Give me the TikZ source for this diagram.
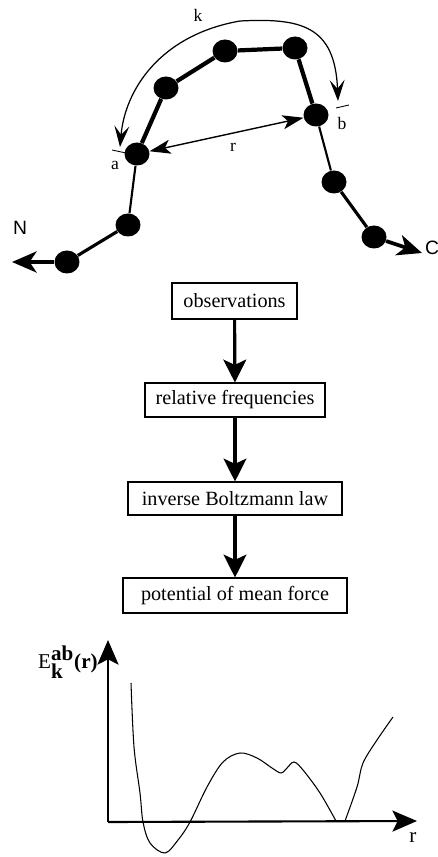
\documentclass[tikz,border=0pt]{standalone}
\usepackage{fontspec}
\setmainfont{Liberation Serif}
\newfontfamily\sansf{Liberation Sans}
\usetikzlibrary{arrows.meta,shapes.geometric}
\begin{document}
\begin{tikzpicture}[x=0.02cm,y=-0.02cm,
  bead/.style={ellipse,fill=black,inner sep=0pt,minimum width=0.5cm,minimum height=0.46cm},
  flowbox/.style={draw,line width=0.6pt,inner sep=0pt,font=\fontsize{11.5}{13}\selectfont},
  flowarrow/.style={line width=1.8pt,-{Stealth[length=13pt,width=13pt,inset=3pt]}},
  axisline/.style={line width=1.2pt,-{Stealth[length=14pt,width=12pt,inset=3pt]}},
  lbl/.style={inner sep=0pt,font=\fontsize{10}{12}\selectfont},
  endlbl/.style={inner sep=0pt,font=\sansf\fontsize{11}{13}\selectfont},
  segthick/.style={line width=2.4pt},
  segmid/.style={line width=1.8pt},
  segthin/.style={line width=1.2pt},
  endarrow/.style={line width=2.1pt,-{Stealth[length=14pt,width=12pt,inset=4pt]}},
  rarrow/.style={line width=0.8pt,{Stealth[length=12pt,width=8pt,inset=3pt]}-{Stealth[length=12pt,width=8pt,inset=3pt]}},
  karrow/.style={line width=0.7pt,{Stealth[length=12pt,width=8.5pt,inset=5pt]}-{Stealth[length=12pt,width=8.5pt,inset=5pt]}},
  tick/.style={line width=0.5pt},
  curve/.style={line width=0.6pt}
]
\useasboundingbox (0,0) rectangle (437,857);

% ---- chain ----
\coordinate (n0) at (12,262);
\coordinate (c0) at (422,253);
\node[bead] (b1) at (67,262) {};
\node[bead] (b2) at (128,225) {};
\node[bead] (ba) at (137,154) {};
\node[bead] (b4) at (166,88) {};
\node[bead] (b5) at (225,51) {};
\node[bead] (b6) at (295,48) {};
\node[bead] (bb) at (316,115) {};
\node[bead] (b8) at (334,182) {};
\node[bead] (b9) at (374,237) {};

\draw[endarrow] (b1) -- (n0);
\draw[segmid] (b1) -- (b2);
\draw[segthin] (b2) -- (ba);
\draw[segthick] (ba) -- (b4);
\draw[segthick] (b4) -- (b5);
\draw[segthick] (b5) -- (b6);
\draw[segthick] (b6) -- (bb);
\draw[segthin] (bb) -- (b8);
\draw[segmid] (b8) -- (b9);
\draw[endarrow] (b9) -- (c0);

\node[endlbl] (nl) at (20,228) {N};
\node[endlbl] (cl) at (432,248) {C};
\node[lbl] (al) at (115,165) {a};
\node[lbl] (bl) at (342,123) {b};

% r arrow
\draw[rarrow] (ba) -- (bb);
\node[lbl] (rl) at (233,147) {r};

% k arrow
\coordinate (ka) at (120,147);
\coordinate (kb) at (338,101);
\draw[karrow] (ka) .. controls (125,90) and (160,35) .. (240,21)
                   .. controls (300,18) and (335,25) .. (kb);
\node[lbl] (kl) at (198,15) {k};
\coordinate (ta1) at (112,150);
\coordinate (ta2) at (126,153);
\draw[tick] (ta1) -- (ta2);
\coordinate (tb1) at (336,108);
\coordinate (tb2) at (349,105);
\draw[tick] (tb1) -- (tb2);

% ---- flowchart ----
\node[flowbox,minimum width=2.5cm,minimum height=0.72cm] (obs) at (234.5,301) {observations};
\node[flowbox,minimum width=3.6cm,minimum height=0.68cm] (rel) at (235,400) {relative frequencies};
\node[flowbox,minimum width=4.28cm,minimum height=0.66cm] (inv) at (235,498.5) {inverse Boltzmann law};
\node[flowbox,minimum width=4.48cm,minimum height=0.7cm] (pot) at (235,595.5) {potential of mean force};
\draw[flowarrow] (obs) -- (rel);
\draw[flowarrow] (rel) -- (inv);
\draw[flowarrow] (inv) -- (pot);

% ---- graph ----
\coordinate (o) at (108,822);
\coordinate (ytip) at (108,640);
\coordinate (xtip) at (417,821);
\draw[axisline] (o) -- (ytip);
\draw[axisline] (o) -- (xtip);
\node[inner sep=0pt,anchor=east,font=\fontsize{12}{14}\selectfont] (el) at (98,662)
  {E$^{\textbf{ab}}_{\textbf{k}}$\textbf{(r)}};
\node[lbl,font=\fontsize{12}{14}\selectfont] (xl) at (413,838) {r};

\draw[curve] plot[smooth,tension=0.55] coordinates {
  (131,683) (134,747) (140,793) (143,822) (150,843) (165,853) (178,840)
  (190,822) (207,787) (223,762) (240,753) (257,758) (272,768) (281,773)
  (287,768) (294,762) (303,770) (320,793) (336,821)}
  -- (345,821)
  plot[smooth,tension=0.55] coordinates {(345,821) (357,787) (363,763) (377,740) (393,717)};
\end{tikzpicture}
\end{document}
